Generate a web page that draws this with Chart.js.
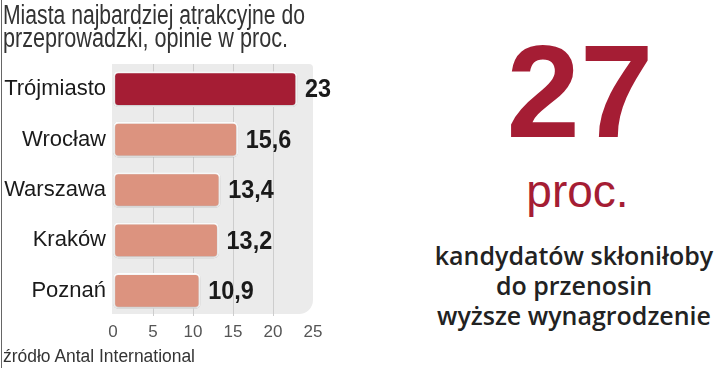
<!DOCTYPE html>
<html>
<head>
<meta charset="utf-8">
<script src="https://cdn.jsdelivr.net/npm/chart.js@4/dist/chart.umd.min.js"></script>
<style>
  html, body { margin: 0; padding: 0; background: #fff; }
  #wrap { position: relative; width: 720px; height: 368px; overflow: hidden; background: #fff; }
  #chartBox { position: absolute; left: 0; top: 0; width: 360px; height: 368px; }
  .t { position: absolute; white-space: nowrap; line-height: 1; }
  .fit { transform-origin: 0 0; }
  .title { left: 3px; font-family: "Liberation Sans", sans-serif; font-size: 27px; color: #333; }
  .src { left: 3px; font-family: "Liberation Sans", sans-serif; font-size: 18px; color: #333; }
  .big { left: 420px; width: 320px; text-align: center; font-family: "Liberation Sans", sans-serif; font-weight: bold; font-size: 132px; color: #a51d34; }
  .proc { left: 420px; width: 315px; text-align: center; font-family: "Liberation Sans", sans-serif; font-size: 46px; color: #a51d34; }
  .desc { left: 420px; width: 308px; text-align: center; font-family: "Open Sans", "Noto Sans", sans-serif; font-weight: 600; font-size: 25px; color: #222; }
  #leftLine { position: absolute; left: 1px; top: 0; width: 1px; height: 368px; background: #666; }
</style>
</head>
<body>
<div id="wrap">
  <div id="chartBox"><canvas id="c" width="360" height="368"></canvas></div>
  <div id="leftLine"></div>
  <div class="t title fit" data-w="302" style="top:2px">Miasta najbardziej atrakcyjne do</div>
  <div class="t title fit" data-w="285" style="top:25px">przeprowadzki, opinie w proc.</div>
  <div class="t src fit" data-w="192" style="top:347px">źródło Antal International</div>
  <div class="t big" style="top:26px">27</div>
  <div class="t proc" style="top:168px">proc.</div>
  <div class="t desc" style="top:243px">kandydatów skłoniłoby</div>
  <div class="t desc" style="top:273px">do przenosin</div>
  <div class="t desc" style="top:303px">wyższe wynagrodzenie</div>
</div>
<script>
const categories = ["Trójmiasto", "Wrocław", "Warszawa", "Kraków", "Poznań"];
const values = [23, 15.6, 13.4, 13.2, 10.9];
const barColors = ["#a51d34", "#dc937f", "#dc937f", "#dc937f", "#dc937f"];
const xTicks = [0, 5, 10, 15, 20, 25];

document.querySelectorAll('.fit').forEach(el => {
  const w = el.getBoundingClientRect().width;
  const target = parseFloat(el.dataset.w);
  el.style.transform = 'scaleX(' + (target / w) + ')';
});

const plotBg = {
  id: 'plotBg',
  beforeDraw(chart) {
    const { ctx, chartArea: a } = chart;
    ctx.save();
    ctx.fillStyle = '#ebebeb';
    ctx.beginPath();
    if (ctx.roundRect) {
      ctx.roundRect(a.left - 1, a.top, a.right - a.left + 1, a.bottom - a.top - 2, [0, 4, 14, 0]);
    } else {
      ctx.rect(a.left - 1, a.top, a.right - a.left + 1, a.bottom - a.top - 2);
    }
    ctx.fill();
    ctx.restore();
  }
};

const barShadow = {
  id: 'barShadow',
  beforeDatasetsDraw(chart) {
    const ctx = chart.ctx;
    ctx.save();
    ctx.shadowColor = 'rgba(0,0,0,0.28)';
    ctx.shadowBlur = 3;
    ctx.shadowOffsetX = 0;
    ctx.shadowOffsetY = 1;
  },
  afterDatasetsDraw(chart) {
    chart.ctx.restore();
  }
};

const valueLabels = {
  id: 'valueLabels',
  afterDatasetsDraw(chart) {
    const ctx = chart.ctx;
    const meta = chart.getDatasetMeta(0);
    ctx.save();
    ctx.fillStyle = '#1a1a1a';
    ctx.font = 'bold 26px "Liberation Sans", sans-serif';
    ctx.textAlign = 'left';
    ctx.textBaseline = 'middle';
    meta.data.forEach((bar, i) => {
      const txt = String(values[i]).replace('.', ',');
      ctx.save();
      ctx.translate(bar.x + 8, bar.y + 1);
      ctx.scale(0.9, 1);
      ctx.fillText(txt, 0, 0);
      ctx.restore();
    });
    ctx.restore();
  }
};

new Chart(document.getElementById('c'), {
  type: 'bar',
  data: {
    labels: categories,
    datasets: [{
      data: values,
      backgroundColor: barColors,
      borderColor: '#ffffff',
      borderWidth: 2,
      borderRadius: 5,
      borderSkipped: false,
      barThickness: 35
    }]
  },
  options: {
    indexAxis: 'y',
    responsive: false,
    animation: false,
    events: [],
    layout: { padding: { top: 64, right: 47, left: 0, bottom: 0 } },
    plugins: { legend: { display: false }, tooltip: { enabled: false } },
    scales: {
      x: {
        min: 0, max: 25,
        afterBuildTicks(scale) { scale.ticks = xTicks.map(v => ({ value: v })); },
        afterFit(scale) { scale.height = 52; },
        grid: {
          drawTicks: false,
          color: (c) => (c.tick && (c.tick.value === 0 || c.tick.value === 25)) ? 'rgba(0,0,0,0)' : '#cdcdcd',
          lineWidth: 1
        },
        border: { display: false },
        ticks: {
          padding: 6,
          color: '#555',
          font: { family: '"Liberation Sans", sans-serif', size: 17 }
        }
      },
      y: {
        afterFit(scale) { scale.width = 113; },
        grid: { display: false, drawTicks: false },
        border: { display: false },
        ticks: {
          padding: 7,
          color: '#1a1a1a',
          font: { family: '"Liberation Sans", sans-serif', size: 22 }
        }
      }
    }
  },
  plugins: [plotBg, barShadow, valueLabels]
});
</script>
</body>
</html>
